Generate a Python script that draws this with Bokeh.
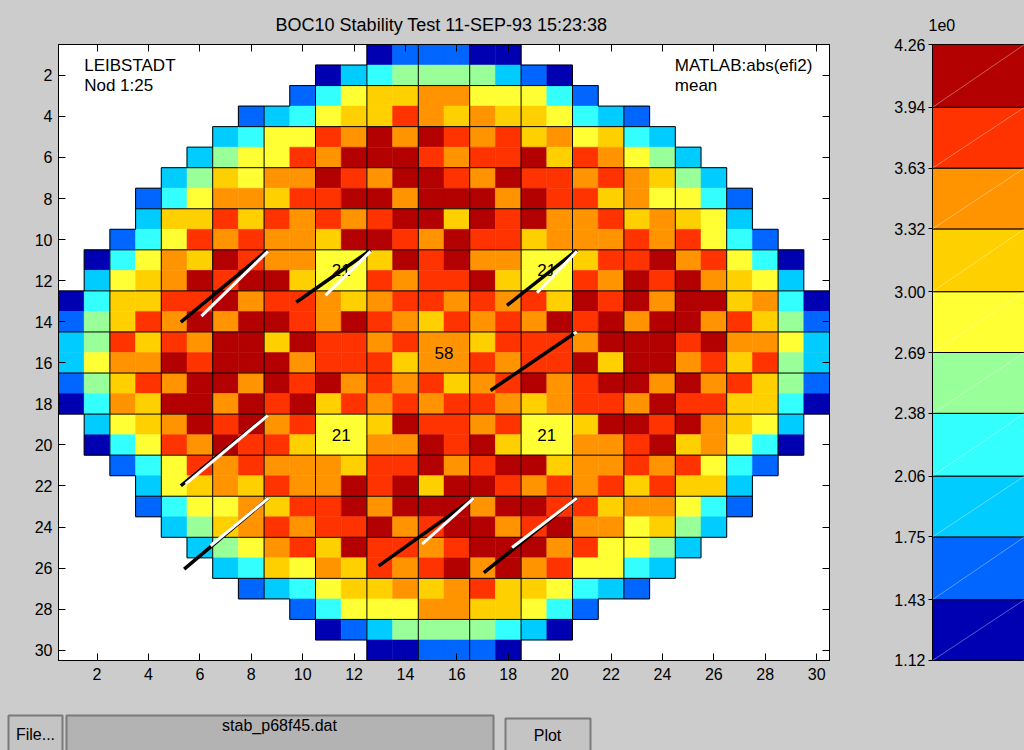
from bokeh.plotting import figure
from bokeh.layouts import column, row
from bokeh.models import (Range1d, FixedTicker, LinearAxis, Label, ColumnDataSource,
                          LinearColorMapper, PrintfTickFormatter, GlobalInlineStyleSheet)
from bokeh.embed import file_html
from bokeh.resources import INLINE
from bokeh.core.properties import value

FONT = "Liberation Sans"
BG = "#cccccc"

TITLE = "BOC10 Stability Test  11-SEP-93 15:23:38"
AXIS_TICKS = [2, 4, 6, 8, 10, 12, 14, 16, 18, 20, 22, 24, 26, 28, 30]
CB_TICKS = [1.12, 1.43, 1.75, 2.06, 2.38, 2.69, 3.00, 3.32, 3.63, 3.94, 4.26]
PALETTE = ["#0000b3", "#0066ff", "#00ccff", "#33ffff", "#99ff99",
           "#ffff33", "#ffd000", "#ff9400", "#ff3300", "#b30000"]
# representative value of each colour class (class index 0..9)
LEVEL_VALUES = [1.275, 1.59, 1.905, 2.22, 2.535, 2.845, 3.16, 3.475, 3.785, 4.10]

# core map, row 1 (top) .. row 30, columns 1..30 ; digit = colour class, '.' = empty
GRID = [
    "............011100............",
    "..........0234444210..........",
    ".........135667755531.........",
    ".......1235668767665321.......",
    "......235587979878675632......",
    ".....24558799987889687542.....",
    "....2465779879987988787642....",
    "...135776889979997988675531...",
    "...266868787899698977867652...",
    "..13587877699879886777878531..",
    ".0357698775569897755688978530.",
    ".2567989965587889655879897652.",
    "036688978876788787869897996730",
    "146879799879876878798979978641",
    "248687996988787768887999897752",
    "257798999788867787889699786842",
    "146879979897878678978997978641",
    "037699798968787887678879886630",
    ".2567989785569887855699897652.",
    ".0358798865577989655778967530.",
    "..13587877768897899677878531..",
    "...256768779896998787868662...",
    "...135576889799979988677531...",
    "....2467878897899789775642....",
    ".....24578698878999785542.....",
    "......236576878979785532......",
    ".......1235667678665321.......",
    ".........135557766531.........",
    "..........0124444320..........",
    "............001110............",
]

LABEL_TEXT = ["21", "21", "21", "21", "58"]
LABEL_X = [11.5, 19.5, 11.5, 19.5, 15.5]
LABEL_Y = [11.5, 11.5, 19.5, 19.5, 15.5]

# vectors: black and white line pairs
BLACK_X0 = [5.26, 9.75, 17.95, 17.31, 5.26, 5.39, 12.96, 17.05]
BLACK_Y0 = [14.02, 13.05, 13.21, 17.35, 21.99, 26.05, 25.89, 26.22]
BLACK_X1 = [8.63, 12.64, 20.67, 20.61, 8.60, 8.67, 16.66, 20.67]
BLACK_Y1 = [10.52, 10.52, 10.52, 14.54, 18.60, 22.59, 22.59, 22.59]
WHITE_X0 = [6.06, 10.89, 19.12, 20.55, 5.45, 6.42, 14.65, 18.15]
WHITE_Y0 = [13.73, 12.72, 12.59, 14.60, 21.90, 24.91, 24.83, 25.00]
WHITE_X1 = [8.65, 12.64, 20.67, 20.66, 8.64, 8.67, 16.66, 20.67]
WHITE_Y1 = [10.57, 10.57, 10.57, 14.50, 18.57, 22.59, 22.59, 22.59]

# ---------------------------------------------------------------- main map
xs, ys, vals = [], [], []
for r, line in enumerate(GRID, start=1):
    for c, ch in enumerate(line, start=1):
        if ch != ".":
            xs.append(c)
            ys.append(r)
            vals.append(LEVEL_VALUES[int(ch)])
src = ColumnDataSource(dict(x=xs, y=ys, v=vals))
cmap = LinearColorMapper(palette=PALETTE, low=CB_TICKS[0], high=CB_TICKS[-1])

main = figure(width=888, height=700, x_range=Range1d(0.5, 30.5), y_range=Range1d(30.5, 0.5),
              output_backend="svg", toolbar_location=None,
              min_border_left=58, min_border_right=59, min_border_top=44, min_border_bottom=40,
              background_fill_color="white", border_fill_color=BG,
              outline_line_color="black", title=TITLE)
main.title.text_font = FONT
main.title.text_font_size = "18px"
main.title.text_font_style = "normal"
main.title.text_color = "black"
main.title.align = "center"
main.title.standoff = 19
main.grid.visible = False

def style_axis(ax, labels=True):
    ax.ticker = FixedTicker(ticks=AXIS_TICKS)
    ax.major_tick_in = 7
    ax.major_tick_out = 0
    ax.minor_tick_in = 0
    ax.minor_tick_out = 0
    ax.axis_line_color = "black"
    ax.major_tick_line_color = "black"
    ax.major_label_text_font = FONT
    ax.major_label_text_color = "black"
    if labels:
        ax.major_label_text_font_size = "16px"
    else:
        ax.major_label_overrides = {t: "" for t in AXIS_TICKS}
        ax.major_label_text_font_size = "1px"
        ax.major_label_standoff = 0

style_axis(main.xaxis[0])
style_axis(main.yaxis[0])
main.xaxis[0].major_label_standoff = 7
main.yaxis[0].major_label_standoff = 6
top_ax = LinearAxis()
style_axis(top_ax, labels=False)
main.add_layout(top_ax, "above")
right_ax = LinearAxis()
style_axis(right_ax, labels=False)
main.add_layout(right_ax, "right")

main.rect("x", "y", 1, 1, source=src,
          fill_color={"field": "v", "transform": cmap},
          line_color={"field": "v", "transform": cmap}, line_width=0.5)

# 2x2 assembly outlines and outer boundary, derived from the grid
filled = [[ch != "." for ch in line] for line in GRID]
n = len(GRID)
segset = set()
for r in range(n):
    for c in range(n):
        if not filled[r][c]:
            continue
        x0, x1 = c + 0.5, c + 1.5
        y0, y1 = r + 0.5, r + 1.5
        if c % 2 == 0 or not filled[r][c - 1]:
            segset.add((x0, y0, x0, y1))
        if c % 2 == 1 or c == n - 1 or not filled[r][c + 1]:
            segset.add((x1, y0, x1, y1))
        if r % 2 == 0 or not filled[r - 1][c]:
            segset.add((x0, y0, x1, y0))
        if r % 2 == 1 or r == n - 1 or not filled[r + 1][c]:
            segset.add((x0, y1, x1, y1))
segs = sorted(segset)
main.segment(x0=[s[0] for s in segs], y0=[s[1] for s in segs],
             x1=[s[2] for s in segs], y1=[s[3] for s in segs],
             line_color="black", line_width=1)

main.text(x=LABEL_X, y=LABEL_Y, text=LABEL_TEXT, text_align="center", text_baseline="middle",
          text_font=value(FONT), text_font_size="17px", text_color="black")

main.segment(x0=BLACK_X0, y0=BLACK_Y0, x1=BLACK_X1, y1=BLACK_Y1,
             line_color="black", line_width=3.5)
main.segment(x0=WHITE_X0, y0=WHITE_Y0, x1=WHITE_X1, y1=WHITE_Y1,
             line_color="white", line_width=3)

for txt, x, y in [("LEIBSTADT", 1.5, 1.5), ("Nod 1:25", 1.5, 2.5),
                  ("MATLAB:abs(efi2)", 24.48, 1.5), ("mean", 24.48, 2.5)]:
    main.add_layout(Label(x=x, y=y, text=txt, text_font=FONT, text_font_size="17px",
                          text_baseline="middle", text_align="left", text_color="black"))

# ---------------------------------------------------------------- colour bar
cb = figure(width=136, height=700, x_range=Range1d(0, 1),
            y_range=Range1d(CB_TICKS[0] - 1e-6, CB_TICKS[-1] + 1e-6),
            output_backend="svg", toolbar_location=None, x_axis_location=None,
            min_border_left=44, min_border_right=0, min_border_top=44, min_border_bottom=40,
            border_fill_color=BG, background_fill_color=BG, outline_line_color="black",
            title="1e0")
cb.title.text_font = FONT
cb.title.text_font_size = "16px"
cb.title.text_font_style = "normal"
cb.title.text_color = "black"
cb.title.align = "left"
cb.title.offset = -4
cb.title.standoff = 27
cb.grid.visible = False
cb.quad(left=0, right=1, bottom=CB_TICKS[:-1], top=CB_TICKS[1:], fill_color=PALETTE,
        line_color="black", line_width=1)
cb.segment(x0=0, y0=CB_TICKS[:-1], x1=1, y1=CB_TICKS[1:], line_color="white",
           line_alpha=0.6, line_width=0.6)
cax = cb.yaxis[0]
cax.ticker = FixedTicker(ticks=CB_TICKS)
cax.formatter = PrintfTickFormatter(format="%.2f")
cax.major_tick_out = 4
cax.major_tick_in = 0
cax.minor_tick_in = 0
cax.minor_tick_out = 0
cax.major_label_standoff = 3
cax.major_label_text_font = FONT
cax.major_label_text_font_size = "16px"
cax.major_label_text_color = "black"
cax.axis_line_color = "black"

# ---------------------------------------------------------------- bottom controls
BUTTON_TEXT = ["File...", "stab_p68f45.dat", "Plot"]
BTN_LEFT = [8, 66, 505]
BTN_RIGHT = [62, 493, 590]
BTN_TOP = [715, 715, 718]
BTN_FILL = ["#c4c4c4", "#b3b3b3", "#c4c4c4"]
BTN_TEXT_X = [35, 279, 547]
BTN_TEXT_Y = [734, 725, 735]

bot = figure(width=1024, height=50, x_range=Range1d(0, 1024), y_range=Range1d(750, 700),
             output_backend="svg", toolbar_location=None, x_axis_location=None,
             y_axis_location=None, min_border=0, border_fill_color=BG,
             background_fill_color=BG, outline_line_color=None)
bot.grid.visible = False
bot.quad(left=BTN_LEFT, right=BTN_RIGHT, top=BTN_TOP, bottom=[760, 760, 760],
         fill_color=BTN_FILL, line_color="#7a7a7a", line_width=2)
bot.text(x=BTN_TEXT_X, y=BTN_TEXT_Y, text=BUTTON_TEXT, text_align="center",
         text_baseline="middle", text_font=value(FONT), text_font_size="16px",
         text_color="black")

layout = column(row(main, cb, spacing=0), bot, spacing=0)
layout.stylesheets = [GlobalInlineStyleSheet(css="html, body { background-color: #cccccc; }")]

open("out.html", "w").write(file_html(layout, INLINE))
